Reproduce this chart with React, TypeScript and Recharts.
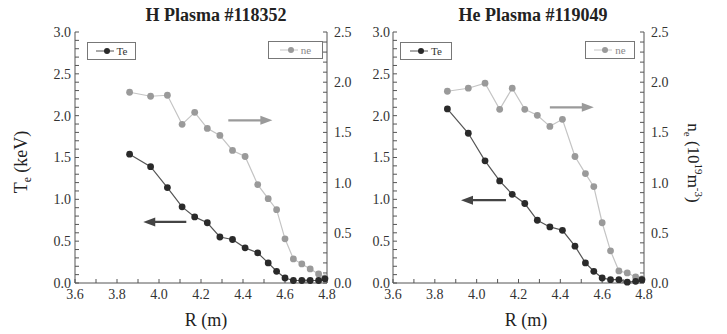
import { LineChart, Line, XAxis, YAxis, ReferenceLine } from "recharts";

// major radius grid (m), shared by both shots
const radius = [3.86, 3.96, 4.04, 4.11, 4.17, 4.23, 4.29, 4.35, 4.41, 4.47, 4.52, 4.56, 4.6, 4.64, 4.68, 4.72, 4.76, 4.79];

// H plasma #118352
const hTe = [1.54, 1.39, 1.14, 0.91, 0.79, 0.72, 0.55, 0.52, 0.42, 0.36, 0.24, 0.14, 0.06, 0.03, 0.03, 0.03, 0.03, 0.05];
const hNe = [1.9, 1.86, 1.87, 1.58, 1.7, 1.54, 1.47, 1.32, 1.26, 0.98, 0.84, 0.73, 0.44, 0.24, 0.19, 0.14, 0.09, 0.05];

// He plasma #119049
const heTe = [2.08, 1.79, 1.46, 1.22, 1.06, 0.95, 0.75, 0.67, 0.63, 0.44, 0.24, 0.14, 0.06, 0.04, 0.04, 0.01, 0.02, 0.04];
const heNe = [1.91, 1.94, 1.99, 1.73, 1.94, 1.73, 1.67, 1.56, 1.63, 1.26, 1.09, 0.96, 0.6, 0.32, 0.12, 0.1, 0.06, 0.04];

const rTicks = [3.6, 3.7, 3.8, 3.9, 4.0, 4.1, 4.2, 4.3, 4.4, 4.5, 4.6, 4.7, 4.8];
const rLabels = [3.6, 3.8, 4.0, 4.2, 4.4, 4.6, 4.8];
const teTicks = [0, 0.1, 0.2, 0.3, 0.4, 0.5, 0.6, 0.7, 0.8, 0.9, 1.0, 1.1, 1.2, 1.3, 1.4, 1.5, 1.6, 1.7, 1.8, 1.9, 2.0, 2.1, 2.2, 2.3, 2.4, 2.5, 2.6, 2.7, 2.8, 2.9, 3.0];
const teLabels = [0, 0.5, 1.0, 1.5, 2.0, 2.5, 3.0];
const neTicks = [0, 0.1, 0.2, 0.3, 0.4, 0.5, 0.6, 0.7, 0.8, 0.9, 1.0, 1.1, 1.2, 1.3, 1.4, 1.5, 1.6, 1.7, 1.8, 1.9, 2.0, 2.1, 2.2, 2.3, 2.4, 2.5];
const neLabels = [0, 0.5, 1.0, 1.5, 2.0, 2.5];

const seriesNames = ["Te", "ne"];

// arrows pointing to the axis each curve belongs to
const hNeArrow = [{ x: 4.33, y: 1.62 }, { x: 4.54, y: 1.62 }];
const hTeArrow = [{ x: 4.13, y: 0.73 }, { x: 3.925, y: 0.73 }];
const heNeArrow = [{ x: 4.35, y: 1.75 }, { x: 4.56, y: 1.75 }];
const heTeArrow = [{ x: 4.14, y: 0.99 }, { x: 3.925, y: 0.99 }];

const SERIF = "'Liberation Serif', 'DejaVu Serif', serif";
const AXIS = "#555";
const TE_LINE = "#555";
const TE_DOT = "#2a2a2a";
const NE_LINE = "#c4c4c4";
const NE_DOT = "#9a9a9a";

const onlyLabels = (labels: number[]) => (v: number) =>
  labels.some((l) => Math.abs(l - v) < 1e-6) ? v.toFixed(1) : "";

const tickStyle = { fontSize: 14, fill: "#333", fontFamily: SERIF };

const arrowShape = (color: string) => (props: any) => {
  const { x1, y1, x2, y2 } = props;
  const dir = Math.sign(x2 - x1) || 1;
  const head = 12;
  return (
    <g>
      <line x1={x1} y1={y1} x2={x2 - dir * head * 0.7} y2={y2} stroke={color} strokeWidth={2.2} />
      <polygon points={`${x2},${y2} ${x2 - dir * head},${y2 - 4.5} ${x2 - dir * head},${y2 + 4.5}`} fill={color} />
    </g>
  );
};

function Panel(props: any) {
  const { te, ne, left, width, margin, leftWidth, rightWidth, leftTickMargin, rightTickMargin, teArrow, neArrow } = props;
  const data = radius.map((r, i) => ({ r, te: te[i], ne: ne[i] }));
  return (
    <LineChart width={width} height={334} data={data} margin={margin} style={{ position: "absolute", left, top: 0 }}>
      <XAxis
        dataKey="r"
        type="number"
        domain={[3.6, 4.8]}
        ticks={rTicks}
        interval={0}
        tickFormatter={onlyLabels(rLabels)}
        tick={tickStyle}
        stroke={AXIS}
        tickSize={-4}
        tickMargin={10}
        height={30}
      />
      <XAxis
        xAxisId="top"
        orientation="top"
        dataKey="r"
        type="number"
        domain={[3.6, 4.8]}
        ticks={rTicks}
        interval={0}
        tick={() => <g />}
        stroke={AXIS}
        tickSize={-4}
        height={0}
      />
      <YAxis
        yAxisId="te"
        orientation="left"
        type="number"
        domain={[0, 3]}
        ticks={teTicks}
        interval={0}
        tickFormatter={onlyLabels(teLabels)}
        tick={tickStyle}
        stroke={AXIS}
        tickSize={-4}
        tickMargin={leftTickMargin}
        width={leftWidth}
      />
      <YAxis
        yAxisId="ne"
        orientation="right"
        type="number"
        domain={[0, 2.5]}
        ticks={neTicks}
        interval={0}
        tickFormatter={onlyLabels(neLabels)}
        tick={tickStyle}
        stroke={AXIS}
        tickSize={-4}
        tickMargin={rightTickMargin}
        width={rightWidth}
      />
      <Line
        yAxisId="ne"
        dataKey="ne"
        type="linear"
        stroke={NE_LINE}
        strokeWidth={1.2}
        dot={{ r: 3.4, fill: NE_DOT, stroke: "none" }}
        isAnimationActive={false}
      />
      <Line
        yAxisId="te"
        dataKey="te"
        type="linear"
        stroke={TE_LINE}
        strokeWidth={1.2}
        dot={{ r: 3.4, fill: TE_DOT, stroke: "none" }}
        isAnimationActive={false}
      />
      <ReferenceLine yAxisId="ne" segment={neArrow} shape={arrowShape("#9a9a9a")} />
      <ReferenceLine yAxisId="te" segment={teArrow} shape={arrowShape("#444")} />
    </LineChart>
  );
}

function LegendBox({ name, left, top, width, line, dot, textColor }: any) {
  return (
    <div
      style={{
        position: "absolute",
        left,
        top,
        width,
        height: 18,
        border: "1.5px solid #777",
        boxSizing: "border-box",
        display: "flex",
        alignItems: "center",
        justifyContent: "center",
        gap: 3,
      }}
    >
      <svg width={18} height={10}>
        <line x1={0} y1={5} x2={18} y2={5} stroke={line} strokeWidth={1} />
        <circle cx={11} cy={5} r={3} fill={dot} />
      </svg>
      <span style={{ fontSize: 11, color: textColor, fontFamily: SERIF }}>{name}</span>
    </div>
  );
}

function Text({ x, y, rotate = 0, size, bold, children }: any) {
  return (
    <div
      style={{
        position: "absolute",
        left: x,
        top: y,
        transform: `translate(-50%, -50%) rotate(${rotate}deg)`,
        whiteSpace: "nowrap",
        fontSize: size,
        fontWeight: bold ? "bold" : "normal",
        fontFamily: SERIF,
        color: "#222",
        lineHeight: 1,
      }}
    >
      {children}
    </div>
  );
}

export default function App() {
  return (
    <div style={{ position: "absolute", left: 0, top: 0, width: 727, height: 334, background: "#fff", overflow: "hidden" }}>
      <Panel
        te={hTe}
        ne={hNe}
        left={0}
        width={365}
        margin={{ top: 32, right: 8, bottom: 21, left: 15 }}
        leftWidth={60}
        rightWidth={30}
        leftTickMargin={8}
        rightTickMargin={11}
        teArrow={hTeArrow}
        neArrow={hNeArrow}
      />
      <Panel
        te={heTe}
        ne={heNe}
        left={365}
        width={362}
        margin={{ top: 32, right: 43, bottom: 21, left: 0 }}
        leftWidth={28}
        rightWidth={40}
        leftTickMargin={7}
        rightTickMargin={11}
        teArrow={heTeArrow}
        neArrow={heNeArrow}
      />

      <LegendBox name={seriesNames[0]} left={87} top={42} width={49} line={TE_LINE} dot={TE_DOT} textColor="#333" />
      <LegendBox name={seriesNames[1]} left={268} top={41} width={55} line={NE_LINE} dot={NE_DOT} textColor="#888" />
      <LegendBox name={seriesNames[0]} left={400} top={42} width={52} line={TE_LINE} dot={TE_DOT} textColor="#333" />
      <LegendBox name={seriesNames[1]} left={585} top={41} width={50} line={NE_LINE} dot={NE_DOT} textColor="#888" />

      <Text x={216} y={15} size={18} bold>H Plasma #118352</Text>
      <Text x={533} y={15} size={18} bold>He Plasma #119049</Text>
      <Text x={206} y={320} size={18}>R (m)</Text>
      <Text x={526} y={320} size={18}>R (m)</Text>
      <Text x={23} y={162} rotate={-90} size={18}>
        T<span style={{ fontSize: "0.65em", verticalAlign: "sub" }}>e</span> (keV)
      </Text>
      <Text x={693} y={163} rotate={90} size={17}>
        n<span style={{ fontSize: "0.65em", verticalAlign: "sub" }}>e</span> (10
        <span style={{ fontSize: "0.65em", verticalAlign: "super" }}>19</span>m
        <span style={{ fontSize: "0.65em", verticalAlign: "super" }}>-3</span>)
      </Text>
    </div>
  );
}
